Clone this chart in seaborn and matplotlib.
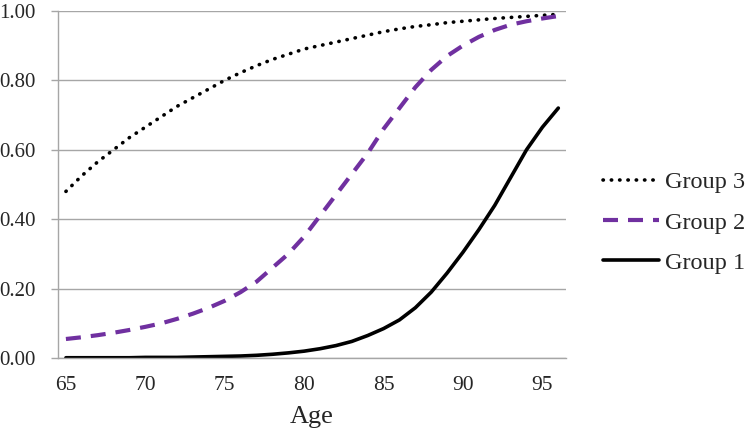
import numpy as np
import pandas as pd
import seaborn as sns
import matplotlib.pyplot as plt
from matplotlib.ticker import FixedLocator, FormatStrFormatter

# --- data ---
ages = list(range(65, 97))
group3 = [0.48, 0.525, 0.565, 0.60, 0.635, 0.665, 0.695, 0.725, 0.75, 0.775, 0.80,
          0.822, 0.842, 0.86, 0.875, 0.89, 0.90, 0.91, 0.92, 0.93, 0.94, 0.948,
          0.955, 0.96, 0.966, 0.97, 0.974, 0.978, 0.981, 0.984, 0.987, 0.99]
group2 = [0.055, 0.06, 0.066, 0.073, 0.081, 0.09, 0.10, 0.113, 0.128, 0.145, 0.165,
          0.19, 0.22, 0.26, 0.30, 0.35, 0.41, 0.47, 0.53, 0.59, 0.66, 0.72,
          0.78, 0.83, 0.87, 0.90, 0.925, 0.945, 0.96, 0.97, 0.978, 0.985]
group1 = [0.001, 0.001, 0.001, 0.001, 0.001, 0.002, 0.002, 0.002, 0.003, 0.004, 0.005,
          0.006, 0.008, 0.011, 0.015, 0.02, 0.027, 0.036, 0.048, 0.065, 0.085, 0.11,
          0.145, 0.19, 0.245, 0.305, 0.37, 0.44, 0.52, 0.60, 0.665, 0.72]
groups = ["Group 3", "Group 2", "Group 1"]

df = pd.DataFrame({
    "age": ages * 3,
    "p": group3 + group2 + group1,
    "group": np.repeat(groups, len(ages)),
})

styles = {
    "Group 3": dict(color="black", linestyle=(0, (0.1, 2.2)), linewidth=2.6, dash_capstyle="round"),
    "Group 2": dict(color="#7030A0", linestyle=(0, (3.6, 2.4)), linewidth=3.0),
    "Group 1": dict(color="black", linestyle="-", linewidth=2.6),
}

sns.set_style("white")
plt.rcParams["font.family"] = ["Liberation Serif", "DejaVu Serif"]

fig = plt.figure(figsize=(7.53, 4.33), dpi=100)
ax = fig.add_axes([0.077, 0.173, 0.675, 0.802])

for g in groups:
    sns.lineplot(data=df[df.group == g], x="age", y="p", ax=ax, label=g, **styles[g])

grid_c = "#A6A6A6"
ax.set_xlim(64.5, 96.5)
ax.set_ylim(0, 1)
ax.yaxis.set_major_locator(FixedLocator(np.arange(0, 1.01, 0.2)))
ax.yaxis.set_major_formatter(FormatStrFormatter("%.2f"))
ax.yaxis.grid(True, color=grid_c, linewidth=1)
ax.set_axisbelow(True)

ax.xaxis.set_major_locator(FixedLocator(range(65, 96, 5)))
ax.xaxis.set_minor_locator(FixedLocator(np.arange(64.5, 96.6, 1)))
ax.tick_params(axis="x", which="major", length=0, pad=13, labelsize=15.5)
ax.tick_params(axis="x", which="minor", length=5, width=1, color=grid_c, direction="out")
ax.tick_params(axis="y", which="major", length=5, width=1, color=grid_c, direction="out",
               pad=11, labelsize=15, left=True)

for side in ["top", "right"]:
    ax.spines[side].set_visible(False)
for side in ["left", "bottom"]:
    ax.spines[side].set_color(grid_c)
    ax.spines[side].set_linewidth(1)

ax.set_xlabel("Age", fontsize=19, labelpad=8)
ax.set_ylabel("")

ax.legend(loc="center left", bbox_to_anchor=(1.03, 0.39), frameon=False,
          fontsize=17.5, handlelength=2.3, handletextpad=0.25, labelspacing=0.75)

fig.savefig("out.png", dpi=100)
